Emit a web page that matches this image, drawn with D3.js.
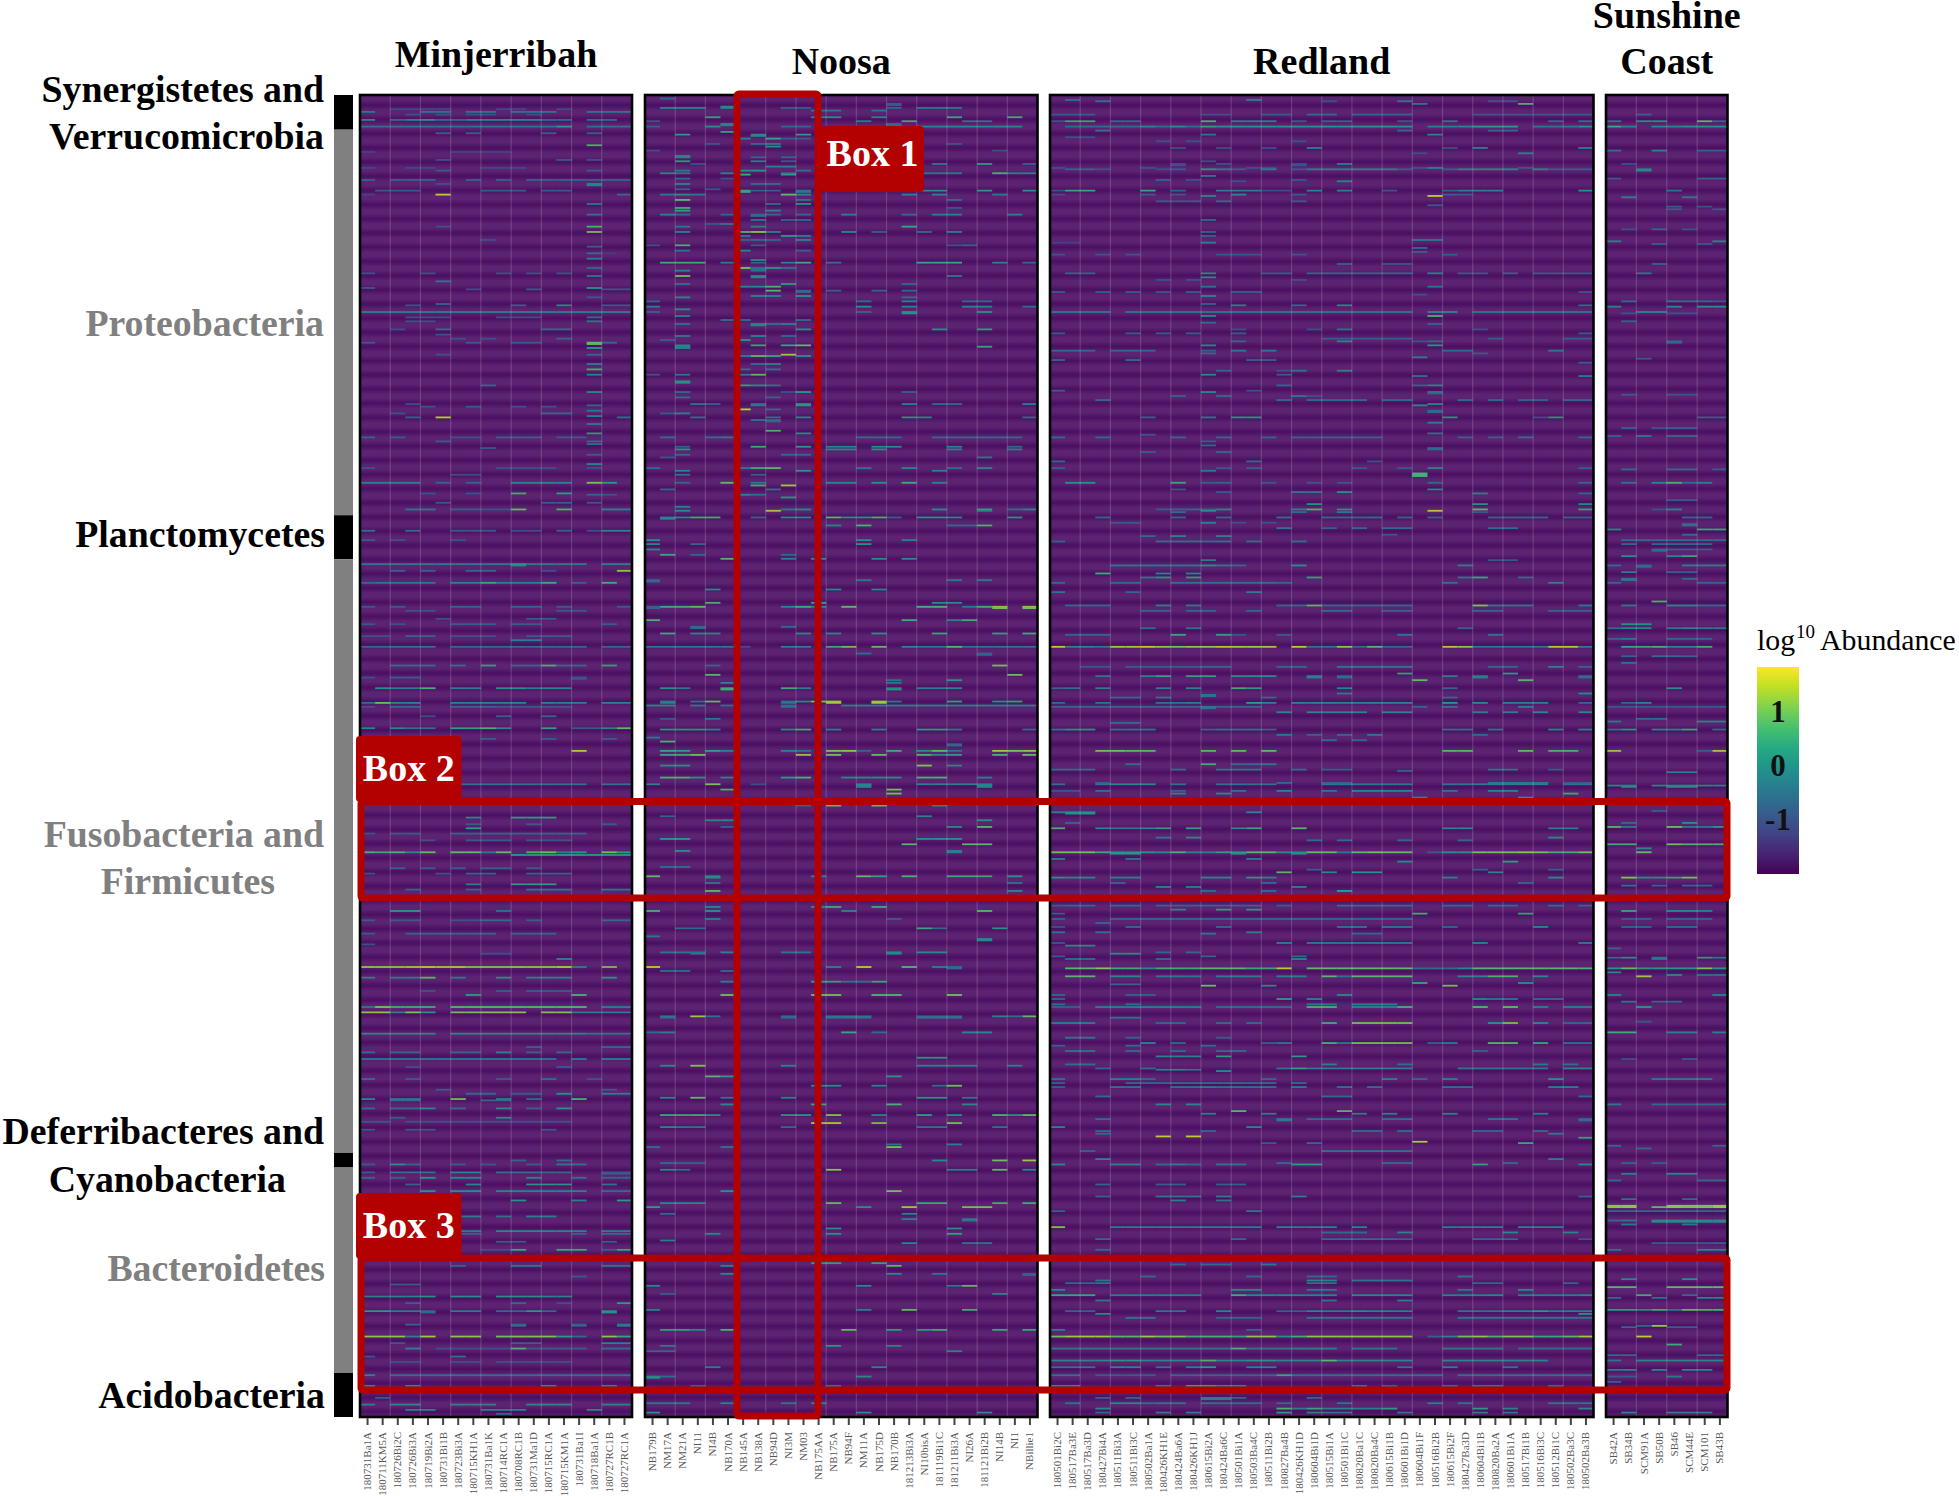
<!DOCTYPE html>
<html>
<head>
<meta charset="utf-8">
<style>
    body { margin: 0; background: #fff; }
    text { font-family: "Liberation Serif", serif; }
    .axis .domain { display: none; }
    .axis line { stroke: #444; stroke-width: 2; }
    .axis text { font-size: 11px; fill: #555; }
</style>
</head>
<body>
<svg width="1959" height="1496"></svg>
<script src="https://d3js.org/d3.v7.min.js"></script>
<script>
// sample names, one list per site
var minjerribahSamples = ["180731Ba1A","180711KM5A","180726Bi2C","180726Bi3A","180719Bi2A","180731Bi1B","180723Bi3A","180715KH1A","180731Ba1K","180714RC1A","180708RC1B","180731Ma1D","180715RC1A","180715KM1A","180731Ba1I","180718Ba1A","180727RC1B","180727RC1A"];
var noosaSamples = ["NB179B","NM17A","NM21A","NI11","NI4B","NB170A","NB145A","NB138A","NB94D","NI3M","NM03","NB175AA","NB175A","NB94F","NM11A","NB175D","NB170B","181213Bi3A","NI10bisA","181119Bi1C","181211Bi3A","NI26A","181121Bi2B","NI14B","NI1","NBillie1"];
var redlandSamples = ["180501Bi2C","180517Ba3E","180517Ba3D","180427Bi4A","180511Bi3A","180511Bi3C","180502Ba1A","180426KH1E","180424Ba6A","180426KH1J","180615Bi2A","180424Ba6C","180501Bi1A","180503Ba4C","180511Bi2B","180827Ba4B","180426KH1D","180604Bi1D","180515Bi1A","180501Bi1C","180820Ba1C","180820Ba4C","180615Bi1B","180601Bi1D","180604Bi1F","180516Bi2B","180615Bi2F","180427Ba3D","180604Bi1B","180820Ba2A","180601Bi1A","180517Bi1B","180516Bi3C","180512Bi1C","180502Ba3C","180502Ba3B"];
var sunshineSamples = ["SB42A","SB34B","SCM91A","SB50B","SB46","SCM44E","SCM101","SB43B"];

// phyla along the left strip, last row of each block
var phylumEnds = [26, 315, 348, 793, 804, 958, 991];
var colorbarTicks = [1, 0, -1];

// non background cells: [row, "cols cols value; ..."]
var minjerribahCells = [
[10,"2-5 9-10 13 -1.1"],[12,"0 4-5 7-8 10-12 15-17 -.4"],[14,"3 5 7-8 11 -1"],[18,"0 3 7-8 9-11 0; 4 .2; 2 5-6 12-13 15-16 -.5"],
[23,"0-12 15-17 -.4; 13 .3"],[28,"5 7 12 15 -.7"],[37,"15 .7"],[42,"0 6-9 -1.2"],[48,"5 -1; 13 -.8; 15 -1"],[54,"0 3-4 8-10 -1.1"],[56,"5 15 -.8"],
[63,"0 2-4 7 9 11-17 -.7"],[66,"15 -.2; 5 -1"],[67,"15 -.2"],[71,"1-3 8-10 12-13 -.8"],[74,"5 1.5; 0 -1.2; 17 -.6"],[81,"15 -.3"],[89,"15 -.4"],[98,"15 .7; 5 -1"],[102,"15 1"],
[108,"8 -1"],[113,"15 -.7"],[118,"15 -.5; 16 -1.3"],[122,"15 -.2"],[129,"15 -.6"],[133,"0 4 9 11 13 -1"],[135,"15 -.3"],[139,"5 -.3"],[144,"15 .2; 0 -.9"],[145,"7 -1; 11 16-17 -.9"],
[151,"15 -.9"],[156,"5 -.6"],[157,"3 -1; 10 -.7; 13 0; 16-17 -.8"],[162,"0-17 -.2"],[166,"3-4 5 9-11 -1; 15 -.5"],[169,"3-4 -1; 15 -.3"],[175,"2 -1; 5 12-13 -.5"],[179,"5 -1"],[182,"6 8 -1; 13 -.7"],
[185,"0 7 10-11 -.8; 15 .9; 16 -.5"],[186,"15 .9"],[189,"15 .3"],[194,"5 -1; 15 -.6"],[201,"15 -.2"],[205,"15 .6"],[209,"15 -.1"],[217,"8 -.6"],[222,"15 0"],[231,"3 -1"],[232,"15 -.6"],[233,"4 10 12 -1; 7 -.8"],
[236,"15 -.3"],[238,"2 -1; 12-13 -.6"],[240,"15 -.1"],[241,"3 -.7; 5 1.5; 17 -.4"],[246,"15 -.3"],[253,"15 .3"],[256,"0 9-11 -.7; 2 13-14 -.8; 6-7 -1"],[259,"5 -.8; 15 -.6"],[261,"15 -.5"],[264,"8 -.9"],[269,"15 -.8"],
[276,"15 -.1"],[279,"0 9-12 15 -1"],[284,"6-7 -1"],[290,"0-3 -.1; 5 7 -.7; 10-13 0; 15 1.1; 16 .3"],[298,"10 .6; 13 .3; 4 7 -1"],[299,"15 -.7; 16 -1"],[305,"5 15 -.8; 12-13 -.7"],[310,"3-4 -.4; 6-7 -.8; 8-9 -1; 10 .9; 13 .7; 16-17 -.2"],
[326,"0 -.4; 3 -.5; 6-8 -.8; 10-11 -1; 13 -.7; 15 -1; 16-17 0"],[333,"0 -.8; 2 6 -1"],[351,"0-14 -.3; 10 0; 16-17 -.2"],[352,"10 0"],[356,"2 4 -.7; 7-8 -.6; 12 -1; 17 1.2"],[365,"0 -.5; 1-4 -.3; 6-7 -.1; 8 .5; 9-11 -.2; 12 .6; 14 -.7; 16 .6"],
[383,"0 -.9; 2 13 -.8; 6-7 10-11 -.7; 17 -.8"],[386,"3-4 -1; 13-14 -.9"],[392,"5 -1; 11-12 -.8"],[396,"0 -.9; 2 -1; 6-8 10-11 -.8; 16 -.8"],[405,"0-1 6-8 -1; 3-4 -.7; 11-13 -.8"],[408,"10-11 -.2"],[413,"0-1 16-17 -.6; 2-4 -.4; 6-14 -.5"],
[427,"2-4 6 -.5; 8 .4; 12 .7; 16 .4; 10-11 13-14 -.6"],[436,"14 -.9; 0 -1; 2-3 -.8"],[437,"14 -.9"],[444,"1 .2; 2-3 -.2; 4 .7; 6-7 -.2; 9-10 .2; 11 -.2; 12-13 0"],[455,"0 -.4; 1 1; 2-3 0; 6-9 -.1; 10 0; 12-14 -.1; 16-17 0"],
[458,"0 -1; 2-3 -.6; 6-8 -.7; 9-13 -.9"],[465,"4 -1; 9 -.7; 12 -.6"],[474,"0 2 0; 3-4 -.4; 6-7 .4; 8 .7; 9 0; 12 .4; 16 -.1; 17 .9; 14-15 -.8"],[482,"8 12 16 -.8"],[491,"14 1.4"],[516,"6-14 16-17 -.4"],
[541,"7 -.1; 10-12 .3"],[546,"7 11 16 -.8"],[549,"7 .3"],[553,"0 -1; 2-3 -.8; 6-13 -.7; 14 -.7"],[558,"4 -1; 7-9 -.8; 11-13 -.9"],[567,"0 .7; 1 .5; 2 .7; 3 -.1; 4 .9; 6-7 .9; 8 -.3; 9 .9; 11 .7; 12 1; 13 -.2; 14 .2; 16 1; 17 .3"],[569,"10-17 .3"],
[579,"2 -.7; 4 6 -.8; 8-9 -.7; 11 -.8"],[583,"0 5 -1; 7-8 11-13 -.7"],[591,"10-12 .3; 7 -.2"],[595,"3 7 -.7; 11-13 16-17 -.4"],[611,"2-3 .3; 9 -.4"],[618,"0 2-3 11 -.8; 6-7 -1; 8-9 16-17 -.6"],[628,"0 -.8; 3-8 10-12 -.7"],[636,"0 -1"],[643,"8-9 -1"],[647,"13 0"],
[653,"0-2 1.2; 3 1.3; 4 1.5; 5 1.3; 6 1.4; 7-9 1.1; 10-12 1.2; 13 1.4; 14 -.2; 16 1"],[661,"0 -.2; 2-3 -.3; 4 .8; 6 -.3; 9 0; 11-13 -.2; 16 .1"],[671,"4 -.9; 9 11-13 -.8"],[674,"7 .3; 14 .7"],
[683,"0 -.3; 1 1.1; 2-4 .6; 6-14 .8; 16-17 -.2"],[687,"0-1 1.2; 2 -.1; 3 1.1; 4 .2; 6-7 1; 8-10 1.1; 12-13 1.1; 14-17 -.2"],[703,"0-4 6-14 -.1; 15-17 -.4"],[713,"11 -.7; 16-17 -.6"],[717,"0 2-3 6-7 13 -.6; 9 -.1; 11 -.7"],
[722,"0-12 -.3; 14 16-17 -.2"],[728,"3 -1; 13 -.8"],[737,"0 12 -.5; 3 9 -.8; 15 -.9"],[745,"5 16 -.8"],[748,"7-8 -.5; 10-11 -.8; 13 .1; 16-17 -.2"],[752,"0 0; 2-3 -.2; 6 1; 9 -.1; 11 -.5; 14 .7"],[753,"2-3 8-9 -.5"],
[759,"0 2-3 6 -.5; 4 9 0; 11 -.7; 13 .2"],[766,"2 -.8; 9 0"],[769,"0-1 -.9; 3-13 -1"],[775,"0 3-4 12 -.9"],[798,"13 -.5; 10 -.7"],[801,"0 6 11 -.8; 2 .1; 3 -.7; 8 -.9; 13-14 -.4"],[807,"0 -.8; 2-4 -.3; 6-7 0; 9-11 -.4; 12-13 -.5; 16-17 -.8"],[808,"16-17 -.8"],
[811,"0 -.6; 2 -.7; 4 .2; 6-7 0; 11 -.1; 14 -.4; 16-17 -.7"],[816,"3 -.6; 7 0; 11-13 .2; 16 -.3"],[821,"4 .2; 6-7 .1; 9-13 -.1; 14 -.2; 16-17 -.5"],[828,"10 .2; 14 -.2; 17 .3"],[840,"6-7 11-12 -.2; 9 -.4"],
[851,"9-12 0; 6-7 16-17 -.2; 13-14 -.1"],[853,"6-7 14 -.7; 16-17 -.5"],[859,"9-10 16 -.8"],[865,"10 13-14 17 .5; 8-9 -1; 16 -.8"],[877,"6 -.7; 10-11 16-17 -.3"],[885,"14 -.8"],[891,"2-3 -.8"],
[900,"0-3 12-13 -.1; 4 .2; 6-7 9-11 .1"],[905,"3 -.7; 10 -.5; 13 -1; 17 .3"],[911,"0-1 11 .3; 2-3 6-7 -.2; 4 9-10 12 -.5; 16 .2"],[912,"16 .2; 4 -.5"],[921,"3 10 -.6; 14 -.7; 17 -.3"],[922,"10 -.6; 14 -.7; 17 -.3"],
[930,"0-2 1.2; 3 -.2; 4 1.3; 6-7 1.2; 9 1; 10-12 1.1; 13 .3; 14 -.6; 16 1.2; 17 .5"],[935,"2 -.8; 10-11 -.7; 16-17 -.1"],[939,"3 -.1; 5-9 -1; 10 .7; 11-14 -.8; 16-17 -.5"],[945,"0 -.9; 6 -.4"],[949,"2-3 6-7 9-13 -1"],[959,"0 0; 2-17 -.4"],
[967,"0 3 12 0; 16 -.1"],[976,"1 -.8"],[981,"0 -.2; 2-3 11-13 0; 6-8 16-17 -.1"],[985,"3-4 8-10 -.2; 15 -.1"],[988,"9 -.7"]
];

var noosaCells = [
[2,"1 -.5"],[6,"16 -.8"],[7,"16 -.8"],[8,"5 -.1"],[9,"5 -.1; 1-3 -.1; 9-10 -.7; 10 -1; 16 -.7; 18-20 -.3"],[11,"11-12 -.3; 15 -.4"],[16,"4 .4; 11 0; 12 .1; 15 -.1; 20 .5; 24 .6"],[19,"0 -.9; 14 -.2; 17 .6; 21-22 -.4"],[21,"5 -.1; 16 -.6"],[22,"5 -.1; 16 -.6"],
[23,"0 -.8; 4 .1; 9-10 -.7; 18-24 0"],[27,"5 .4"],[29,"2 .3; 7 0; 10 .3"],[30,"7 0"],[32,"6 -.2; 8 .5; 9-10 -.8"],[36,"4 20 -.9; 8 -.3; 7 -.6"],[38,"8 .1"],[41,"0 23 -1"],[45,"2 -.1"],[46,"2 -.1; 7 9 -.7"],[49,"2 .3; 7 -.2; 9 -.8"],
[51,"3 -1; 19 -.3; 22 .3; 25 -.7"],[53,"8-9 -.2"],[56,"2 -.3; 6-7 .2; 10 -.5"],[58,"1 5 -.1; 2 9 18-20 -.3; 23 .7; 24-25 -.2"],[59,"6 .6; 9 .3"],[62,"2 -.6; 5 -1"],[66,"2 -.1; 7-8 -.5"],[70,"4 -.9; 2 -.7"],[71,"6 .5; 7-8 -.7; 10 -.3; 18-19 .1; 22 .3; 25 .2"],[72,"6 .5; 10 -.3"],
[74,"1 3 -.3; 2 10 0; 9 .9; 17 19 -.1; 23 -.3"],[78,"2 .9; 10 -.4; 20 -.6"],[81,"10 .1; 8 -.5"],[84,"2 .6; 20 -.9"],[86,"8 -.1; 2 .4"],[89,"1 -.1; 2 7-8 10 -.6; 5 -.7; 13 19-20 24 -.2; 17 -.5"],[90,"7 -.6"],[93,"7 -.3; 9 -.7; 10 -.6"],[96,"4 -.9; 5 -.3"],[98,"2 -.4; 7 -.2; 17 .5"],
[102,"6 .8; 7 1.2; 8 -.1; 2 -.1; 13 0; 15 -.7; 18 -.5; 20 -.2"],[105,"6 -.3; 10 -.2; 9 .3"],[108,"6 8 -.7; 10 -.1; 7 -.6"],[112,"2 .7; 7 -.8; 0 20 -1; 21 -.7"],[116,"2 -.3; 6 0; 10 -.7"],[123,"7 0"],[125,"1-3 .6; 5 -.2; 7 -.6; 9 -.1; 10 .6; 12 -.4; 18-20 .5; 23 -.1; 25 -.5"],
[129,"6 1.1; 7 9 -.5; 8 .2"],[130,"7 -.5"],[131,"2 -.1; 7 -.5"],[135,"2 1; 7 0; 20 -.3"],[136,"7 0"],[141,"2 -.5; 9 .3; 17 -.6"],[143,"6-7 0; 8 .7"],[146,"8 .8; 10 -.5; 12 -.7; 15 -.6; 17 -.5"],[147,"10 -.5"],[150,"7-8 -.1; 10 .1"],[151,"2 -.1; 17 -.5"],
[154,"0 -.7; 14 -.5; 17 -.1; 21-22 -.6"],[158,"0 -.2; 14 .1; 21-22 17 -.1; 25 -.5"],[160,"2 0"],[162,"0 -.7; 14 -.6; 17 .1; 22 .1"],[163,"17 .1"],[165,"2 -.2"],[168,"5 10 -.5; 6 -.4"],[171,"7 -.1; 2 8 -.5; 9 -.2"],[172,"7 -.1"],[175,"10 19 .1; 22 .3"],[180,"7 -.1; 9 -.6; 2 -.3"],[183,"6 .2; 1 -.8"],
[187,"2 -.1; 7 9 .5; 10 .9"],[188,"2 -.1; 22 .5"],[189,"2 -.1"],[194,"9 1.3"],[195,"6 -.2; 7 .9; 8 .5; 10 .1"],[201,"7 -.4; 8 -.1"],[205,"6 8 -.5"],[209,"7 .9; 0 -.9; 2 -.3; 6 -.2"],[214,"2 .1"],[215,"2 .1"],[217,"6 .4; 7 0; 8 -.4"],[222,"10 .3; 9 -1; 2 -.5; 17 -.7"],[226,"2 -.6; 8 -.7"],
[231,"7 -.3; 10 .2; 3 -.3; 4 -.7; 17 -.1; 19-20 -.5; 25 -.1"],[232,"7 -.3; 10 .2"],[235,"6 1.5; 8 -.6"],[238,"2 -.2; 1 -.8"],[241,"3 8 -.4; 17 .2; 18 10 -.1; 25 -.5"],[243,"7 -.4; 8 -.6"],[244,"8 -.6"],[251,"8 .7"],[253,"10 0"],[256,"5 -.3; 4 1 14 -.5; 15-16 19-24 -.6"],
[263,"7 .6; 10 .3; 12-13 0; 15-16 .1; 20 -.1; 2 -.7; 24 -.6"],[265,"2 .2; 12-13 0; 15 .1; 20 -.1; 24 -.2"],[269,"2 9-10 -.6"],[271,"1 -.9; 22 -.3"],[279,"0 -.5; 6 -.3; 7 .6; 8 .8; 14 -.4; 17 -.1; 20 -.5; 22 -.1"],[281,"2 -.1; 10 .2; 19 -.2"],[284,"2 -.4; 7 -.7"],
[290,"5 .9; 7 -.3; 2 -.7; 17 .6; 12-13 0; 15 .1; 19 -.1"],[292,"7 .6; 9 1.3"],[295,"8 -.4; 1 -.6"],[299,"6 -.1; 7 -.5"],[301,"9 .2"],[308,"2 -.2"],[310,"9 -.3; 10 0; 19 0; 22 .4; 24 -.6; 25 -.2"],[311,"8 1.3; 2 0; 22 -.2"],
[316,"1 0; 2 0; 3-4 .6; 9-10 0; 12 .8; 13-14 .1; 15 .7; 16 -.7; 18-19 .2; 20 -.1; 24 .2; 7 -.6"],[317,"1 0"],[322,"14 .7; 22 .7; 12 -.1; 20-21 -.6"],[333,"0 .1; 14 .1; 17 -.2"],[336,"0 0; 14 .2; 3 -.6"],[340,"0 -.1"],[344,"1 .5; 9 -.6; 3 -.7"],
[347,"5 .8; 9 -.2; 11 .2; 15 17 .1"],[363,"0 -.6; 14 20 22 -.3"],[364,"0 -.6"],[370,"4 15 12 0"],[380,"4 .7; 11 .5; 19-20 .1"],[383,"0 -.7; 1-2 .6; 3 13 .9; 9 11 0; 10 .6; 18-19 .7; 21 -.3; 22 .6; 23 25 1.2"],[384,"0 -.7; 23 25 1"],
[393,"0 .7; 17 21 .6; 20 -.2"],[398,"3 -.6; 9 -.5"],[399,"3 -.6"],[403,"1 .6; 3-4 10 12 0; 15 .1; 19 .5; 23 .4; 25 .6"],[413,"0-5 -.3; 6 -1; 9-10 -.2; 12 .5; 13 1; 15 .9; 17 0; 18-19 -.3; 20 .8; 21-25 -.4"],[418,"14 -.5; 22 -.7"],[419,"22 -.7"],[427,"23 1; 4 -.7"],[434,"4 .8; 24 1"],
[438,"20 .2; 16 -.4"],[440,"5 -.1; 16 -.3"],[444,"1 .2; 2 -.3; 5 .5; 9 .6; 10 16 18-19 -.2; 20 0"],[445,"5 .6; 16 .1"],[454,"1 -.2; 3 -.4; 4 .9; 9 -.3; 10 0; 11 1.1; 12 15 1.3; 16 -.3; 20 .4; 24 .4; 23 .1"],[455,"1 -.2; 9 -.3; 12 15 1.3"],
[457,"0-1 0; 3 -.3; 5 9 -.5; 13-25 -.2"],[458,"9 -.5"],[467,"4 -.3; 1 -.8"],[475,"1-3 .2; 4 -.1; 9 0; 10 .6; 12 -.2; 15 -.1; 18-19 .3; 20 -.3; 25 -.5"],[481,"0 -.3"],[484,"1 .7"],[486,"20 -.6"],[487,"20 -.6"],
[491,"1 .5; 2 .3; 4 .4; 5 9 -.1; 10 -.4; 12 1.1; 13 1.2; 14 -.7; 16 .6; 18 .1; 19 .9; 20 -.4; 23 1.3; 24 1.1; 25 1.2"],[494,"1-2 .5; 3 1; 10 1.2; 12 1; 15 .9; 18 .7; 19 0; 20 .3; 23 .7; 25 .9"],[502,"1-2 .1; 18 1.1; 20 -.1"],[511,"1-2 .7; 3 .1; 5 -.1; 9 .3; 10 .7; 13-16 0; 18-19 .7; 22 -.2"],
[516,"0 -.1; 4 1.1; 14 22 -.1; 7 -1; 18-21 -.2"],[517,"14 22 -.1"],[518,"14 22 -.1"],[520,"5 .7; 16 1"],[523,"16 1"],[532,"10 -.7; 12 15 .9; 19 -.1"],[540,"1 -.7; 18 -.1"],[543,"4 -.1; 5 0; 22 .1"],[548,"5 -.7; 22 .8; 20 0"],[557,"1-2 .3; 18-20 .1"],[561,"17 21-22 .8"],[566,"20 -.2; 2 .1"],[567,"20 -.2"],
[578,"1-2 -.5"],[585,"0 .9; 4 0; 11 -.1; 14 .9; 15 .4; 17 .7; 20-22 .5; 24 .2"],[586,"4 0"],[590,"4 -.3; 24 -.4"],[596,"4 .9; 24 0"],[608,"12 15 .6; 11 0; 4 -.1"],[611,"0 .7; 22 .8; 13 0; 4 .2"],[617,"4 -.2; 16 -.8"],[624,"2-3 19 -.5; 18 .5; 23 .2"],[630,"0 -.3"],[632,"22 0"],[633,"22 0"],
[642,"1-2 9-10 -.3; 3 -.4; 5 -.1; 16 18-19 0"],[643,"3 -.4; 16 0"],[653,"0 14 1.5; 12 19 -.1; 17 .8; 20 -.5"],[654,"20 -.5"],[656,"1-2 -.4; 5 -.5"],[664,"5 -.2; 11-12 .4; 15 .5; 13-14 -.4"],[674,"5 11 12 1; 15-16 .8; 20 1"],
[690,"1 -.3; 3 1.3; 4 -.4; 9 -.5; 12-14 -.3; 18-20 -.6; 23 -.1; 25 .9; 24 -.5"],[691,"1 9 -.5; 12-14 18-20 -.4"],[702,"1 -.2; 0 -.5; 13 .5; 15 -.5; 21-22 0"],[721,"18-19 .2"],[727,"1 0; 3 1.1; 9 -.1; 18-21 24 -.2"],[735,"4 .8; 5 .3; 16 .2"],[742,"11-12 .1; 15 -.1; 20 1; 19 -.5"],
[751,"1 0; 3 .9; 9 -.1; 5 21 -.3; 18-19 .2"],[756,"5 21 0; 11 .5; 16 .7"],[764,"1-2 .5; 3 .6; 4 .1; 9-10 .2; 12 1.1; 15 -.1; 20 .1; 23 .7; 24 .1; 25 .9; 18 .4"],[770,"11-12 1.3; 15 20 1"],[773,"1 0; 2-3 18-19 -.3; 9 -.5; 23 -.4"],[786,"16 -.4; 20 -.2"],[788,"5 -.4; 0 -.5; 16 1"],
[798,"23 1; 25 1.3; 19 0"],[800,"2-3 -.7; 1 -.5"],[805,"1 0; 2 -.5; 12 1.2; 20-21 -.2; 23 .9; 25 0"],[821,"5 .2; 16 1"],[830,"1-3 0; 12 .9; 18-19 .5; 23 25 .6"],[833,"0 .3; 14 .1; 17 1.3; 21-22 1"],[838,"1 -.5; 17 -.1"],[842,"21 -.3; 17 -.2"],[843,"21 -.3"],[849,"12 20 .1"],[853,"4 0; 12 .1; 20 .4"],[858,"1 -.2"],[860,"17 0; 21-22 -.4"],
[875,"11-12 .3; 15 .4"],[877,"16 .8; 5 0"],[883,"5 16 0; 19 -.3; 25 -.7"],[884,"25 -.7"],[892,"20 -.4; 21 .9; 14 0; 0 0"],[898,"1 -.8; 23 -.1"],[910,"0 -.1; 14 -.2; 17 .9; 21 .6"],[925,"1-2 .4; 3 0; 5 .7; 13 .9; 16 .3; 19 .6; 18 .3; 23 25 .5"],[937,"1 -.3; 12 .2; 16 -.2"],[941,"0-1 -.6; 20 -.2"],
[953,"4 -.2; 15 0"],[960,"0 0; 1 -.5; 14 0"],[961,"0 0"],[967,"3 -.6; 12 -.3"],[980,"0 -.4; 1-2 -.3; 5 -.1; 9 -.4; 11 0"],[987,"0 .2; 14 22 .1"]
];

var redlandCells = [
[3,"1 -.5; 13 -.2"],[4,"3 -.4; 23 -.3; 18 -1; 29-30 -.9"],[6,"24 -.3; 31 .7"],[14,"0-2 14-15 -.8; 10-11 -1; 17-18 -.6; 20-23 -.7; 28-33 -.9; 34-35 -.8"],[19,"0 -.9; 1-2 .5; 4-5 -.5; 10 .7; 12-14 -.1; 16 23 -.8; 18-19 -.7; 26 -.3; 33 -.6; 35 -.4"],
[23,"1-5 7 9 -.5; 6 0; 8 .1; 10 .3; 11 .1; 12-23 .2; 25-26 -.2; 27 0; 28-30 .3; 32-34 -.3; 35 .2"],[26,"3 -.3; 23 -.5; 29-30 -.6"],[29,"10 -.3; 25 -.1"],[31,"1-2 -1"],[34,"7 9 16 -1"],[39,"8 11 14 26 -1; 17 28 35 -.1"],[43,"24 -1; 31 -.2"],[49,"10 -1"],[51,"8 11 16 -1; 19 -.2"],[52,"8 16 -1"],
[54,"0 6 13-14 24 -1; 31 -.9; 25 -.2"],[55,"1-2 -.7; 3 7 -1; 8 12 23 26 33-35 -.8; 10 .2; 11 -.3; 14 17-22 -.2; 16 -.9; 27-30 -.1; 32 -.1"],[60,"10 -.3"],[63,"7 -.7; 9 -1; 16 -.9"],[64,"12 -1; 19 -.1"],[71,"0 -1; 1-2 6 .5; 8 26 -.7; 11-13 -.2; 14-15 -1; 17 0; 19 27-29 -.1; 22 -.9; 35 .2"],
[74,"0 -1; 6 27 -.8; 8 16 -.9; 12 0; 26 -.7"],[75,"10 -.1; 25 1.5"],[79,"7-9 16 -.8; 11 -.5"],[82,"25 -.8"],[93,"10 -.5"],[102,"10 -.7"],[105,"10 -.7"],[108,"24-25 -.3"],[110,"10 -.1; 0-1 -1.2"],[114,"24 -.5"],[117,"24 -.7"],[119,"0 3 5 11-13 16 -.9; 26 -.8"],[126,"19 -.7; 22-23 -.9"],
[133,"1-2 -.7; 10 -.1; 14-15 32-35 27-28 -.8; 17-23 -.6; 25 -.1; 30 -.7"],[136,"10 0"],[138,"7 9 16 -1"],[143,"10 -.4; 25 -.3"],[147,"0 3 5 9 -.8; 7 35 -.9; 12-13 -.7"],[149,"24 -1"],[150,"10 -.1"],[156,"10 -.7"],[157,"12 -.2; 16 -.5; 19 0; 35 -.6"],[162,"0-3 5-23 28-35 -.3; 25-26 0"],[165,"10 0; 25 .7"],[170,"10 -.5"],[171,"25 -.7"],
[175,"12 17 28 -1; 19 -.4"],[178,"0 5 7 9 12 35 -.8"],[182,"18-23 29 34-35 -.8"],[184,"19 -.1; 12 25 -.6; 24 -1"],[187,"10 -.1; 25 .2"],[191,"0-2 4-6 -.6; 12 14 33 -.3; 26-27 -.5; 10 -.8"],[193,"10 -.6; 28 -.8"],[196,"24 -.2"],[198,"0 -.6; 5 -.5; 13-14 -.7"],[200,"35 -.7"],[206,"11 -.7; 16 -.4; 19 -.1; 15 -1"],[209,"10 0; 15 -.8"],[210,"24 -.4; 35 -.2"],
[217,"15 -.6; 24 -.7; 25 -.1"],[221,"0 -.7; 13 -1"],[222,"10 0; 25 -.2"],[223,"25 -.7"],[225,"8 -.7; 11 -.6; 16 -.3; 17 -1"],[228,"3 15 17-20 22-23 27 29 -.5; 31-32 -.7; 34-35 -.6"],[231,"25 0"],[232,"24 0"],[236,"25 -.6"],[237,"25 -.6"],[241,"6 -.7; 10 -.3; 12-13 26 33 .2; 32 -1"],[245,"25 -.2"],[253,"25 -.4"],
[254,"6 -.9"],[256,"0 3 8 11 35 -.6; 14 16-21 27 29 -.7; 31 -.5"],[259,"10 -.8"],[262,"10 -.6"],[264,"25 -.6"],[265,"25 -.6"],[267,"6 -.8; 11 -.6"],[274,"0 -.6; 13 -.5; 21 -1"],[279,"0 13 35 -.8; 11 20 23 -.9; 25 -.1"],[281,"10 -.3"],[283,"24 .7"],[284,"24 .7"],[285,"24 .7"],
[290,"1-2 .2; 8 .5; 10 -.8; 11 -.7; 14 17 19 -.9; 25 35 -.6"],[295,"25 0; 8 -.9"],[297,"16-17 -.3; 19 .1; 11 -.8"],[298,"28 -.2; 35 -.7"],[306,"17 .1; 28 .1; 35 0"],[310,"7 10 -.8; 8-9 -.6; 11 -.1; 16 -.2; 17 .7; 19 .1; 28 .8; 35 .4"],[311,"10 .1; 25 1.4"],[312,"8 16 -.6; 19 -.3; 28 -.9"],
[316,"3 8 -.6; 11 18-20 29-32 -.5; 15 21 -.4; 23 25 34-35 -.6"],[320,"4-5 -.8; 10 -.1; 12 14 -1"],[324,"15 -.3; 18 -.7; 20 -.6; 22-23 29-30 -.5"],[329,"22 -.9"],[330,"6 -.6; 8 11 -.1"],[334,"0 -.7; 7-9 11 13 16 -.4; 10 -.5"],
[348,"10 -.2; 29-30 -.9"],[352,"4-9 11 -.3; 10 16 .1; 12 -.6; 27 -.2"],[358,"3 .6; 7 9 -.1"],[361,"6 -.3; 7 .2; 9 .3; 17 .4; 27 -.3; 28 .5; 31 -.5"],[365,"0 4-5 -.5; 8-14 26 -.4; 33 -.1; 15 -.6"],[372,"0 -.3; 13 -.2; 5 -.7"],
[382,"1-3 15-16 18-23 -.5; 7 -.2; 9 29-31 35 -.3; 17 .8; 28 1.1"],[386,"6-7 22-23 33-35 -.7; 9-10 13 28-29 -.6; 18-19 -.5"],[399,"6 -.5; 9 -.4; 27 -.7"],[404,"8 .5; 11 .4; 1-3 -.6; 12 -.9; 15 -.8; 23 29 -.3"],
[413,"0 1.5; 1-2 -.1; 3 -.3; 4-5 1.3; 6 1.5; 7 1.2; 8 1; 9 10 1.2; 11 1.4; 12-14 1.3; 16 1.5; 17-18 -.4; 19 1.2; 20 22-23 -.5; 21 .8; 26 1.4; 27 1.2; 28-32 -.3; 33-34 1.4; 35 -.2"],[428,"2-3 -.9; 5-9 -.8; 10-11 15-16 29-30 -.6; 19-23 -.3; 33 -.1; 35 -.7"],[433,"23 .4; 30 .3"],
[435,"3 -.3; 6 -.1; 7 .5; 9-10 .4; 12-14 .1; 17 26 28 -.2; 19 35 -.5"],[436,"17 28 -.2; 19 35 -.5"],[438,"24 .9; 31 .8"],[444,"0 26 -.6; 1 -.4; 3 -.2; 7 9 19 -.1; 12 .6; 13 .3"],[448,"35 0; 19 -.3"],[449,"10 -.4"],[450,"10 -.4"],[451,"4-5 14 26 -.6; 7 -.4"],
[455,"0 35 -.5; 3 7-8 -.3; 9 -.2; 13 .4; 14 16-23 0; 26 .3; 28 .1; 30-32 -.1"],[458,"0-13 24 -.7; 10 26 -.4; 31 -.2"],[459,"10 -.4"],[462,"15 32 35 0; 17-20 22-23 -.1; 28 30 -.2"],[470,"4-5 -.5"],[475,"0 4-6 -.3; 1-2 .2; 10 14 -.6; 11-13 -.3; 26-27 -.4; 29 -.3; 33 35 -.1"],
[479,"15 21 -.3; 17 -.7; 19 28 -.6"],[483,"18 20 -.5"],[491,"3-4 1; 5-6 10 .8; 12 14 31 .9; 26-27 .8; 33-34 .7"],[501,"5 12-13 -.5; 10 .6; 14 -.3"],[505,"0-2 8 16 -.5; 11-13 29-30 -.3; 18-19 33 -.8"],[506,"23 -.7"],[515,"3 18-19 -.7; 15 -.5; 29-32 -.3; 34-35 -.8"],
[516,"0 3 8 11-14 34-35 -.4; 4-6 0; 18-23 26-27 -.3; 28-32 -.2"],[521,"0-1 -.9; 3 12 -.4; 8 -.7; 15 -.1; 18 26 -.3; 20-23 0; 29-30 -.1"],[523,"8 -.1; 11 0; 34 .5"],[526,"24 0; 31 .2"],
[537,"0 -.1; 1-2 .1; 13 0"],[538,"1-2 .1"],[545,"1 -.6"],[549,"0 .7; 3 6 12 0; 4-5 -.3; 7 .3; 9 .4; 13 .5; 16 .8; 26-27 0; 33-34 -.2"],[556,"7 -.3; 9 -.1; 33 0"],[558,"17 19 -.5; 23 27 -.6"],
[567,"0-2 1; 3 .5; 4-5 .1; 6 .2; 7 0; 8 .7; 9-10 -.2; 11 .4; 12 .2; 13-14 .8; 15-16 0; 17-18 .9; 19 -.4; 20 .8; 21 1; 22-23 .9; 25 -.8; 26-27 .1; 28-30 1; 31 1.2; 32 1; 33-34 .6; 35 1"],[568,"4-5 .3; 12 .2; 16 .1"],[572,"0 -.1; 5 -.3; 13 -.2"],[574,"23 0; 30 .3"],
[580,"17 28 33 -.7"],[582,"15 .8; 18 29 0; 20-21 .2"],[586,"0 .1; 1-2 10-11 -.1; 4-5 14 26 -.2; 13 .2; 33 0"],[590,"4 -.6; 14 -.5; 31 -.6"],[593,"7 16 0; 9 -.1"],[596,"19 .4; 10 -.4; 14 -.5"],
[607,"0 15 -.8; 1-2 4-5 26-27 29-30 -.6; 7-13 35 -.7; 19-23 33 -.5"],[610,"8 -.1; 11 .3; 13 .2"],[613,"24 .6; 31 .4; 0 -.8"],[617,"0 -.7; 4-23 -.6"],[620,"3 -.6"],[623,"5 11 -.5; 0 -.9; 19-20 22-23 -.3; 26 -.6; 32 0"],[627,"0 -.3; 13 -.2; 3 -.4"],[628,"10 -.4; 20-21 -.6"],[635,"0 -.8; 15 -.1; 17-23 -.2; 28 0; 35 -.1"],[637,"1-2 0"],
[642,"7 9 -.7"],[643,"4-5 0"],[645,"0 -.8; 10 -.6; 16 -.5"],[647,"7 -.5; 16 0; 1-2 -.4"],[654,"1-2 .8; 3 1.2; 4-5 .6; 6 0; 7-9 .6; 10-12 .8; 13-14 .5; 15 1.5; 17-23 .9; 24-26 -.5; 27 0; 28-34 .8; 35 .7"],[660,"1-2 .8; 4-5 0; 7-9 -.3; 11-13 15-16 -.2; 18 20-23 .8; 19 -.4; 27-28 -.1; 29-30 .7; 32 0"],
[665,"24 .5; 31 .1"],[666,"4-5 -.6"],[667,"10 26 1; 14 0"],[674,"0 -.6; 5-6 -.7; 19 0"],[677,"0 -.6; 17 28 0; 15 .4; 29-30 -.3; 32-33 -.5"],[681,"0 5 -.5; 17-18 -.3; 20-22 -.2"],[683,"0-1 -.7; 3-9 -.2; 11-15 -.5; 17-18 .7; 20-22 -.1; 23 .7; 28 .8; 30 .9; 32 34-35 -.1"],[691,"4-5 -.4"],
[695,"0-2 -.2; 7-8 -.6; 11 13 -.5; 18 .6; 20-23 30 1; 29 .2; 32 0; 34-35 -.6"],[706,"1-2 -.3; 5 -.7; 11 -.8"],[710,"6 0; 8 -.5; 14 -.7; 15 19 -.3; 18 .7; 20-23 1; 25 -.7; 26 -.2; 29-30 .8; 32 .5; 34-35 -.4"],[712,"0 -.7; 5 10 -.5"],[716,"1-2 -.4; 5 8 -.6; 11-12 -.5; 28 -.7"],[720,"7-9 -.1; 11 16 .3"],
[726,"1-2 23 34 -.5; 18 -.2; 32 -.3"],[729,"3 -.6; 6 -.5; 15 27-32 -.3; 16 .4; 17-23 -.2; 34-35 -.1"],[730,"7 -.2; 8 -.1; 9 -.4"],[731,"11 .1"],[737,"0 -.4; 4-5 22 -.2; 6 14 24 -.6; 26 -.1; 33 .1"],[740,"0 -.7; 5-14 16 -.6"],[743,"0 -.7; 4-5 19 -.3; 8-9 11-14 21 26-27 -.4; 10 16 -.2; 33-34 -.1"],
[750,"3 18-19 35 -.5"],[756,"7 0; 9 -.1"],[761,"12 19 .8"],[763,"10 14 20 32 -.2; 22 26 -.1"],[767,"3 18-19 22-23 35 -.5; 15 -.3; 17 -.6; 29-30 -.4"],[768,"15 -.3; 35 -.5"],[773,"0 13 0"],[776,"3 20-21 23 32 -.5; 10 28-29 -.6"],[778,"33 -.3; 3 -.6"],[780,"7 9 1.5"],[781,"35 .4"],[784,"24 1.4"],[785,"31 .5; 14 -.8; 17 -.5"],
[791,"2 -.7; 18-23 -.4"],[797,"3 0; 33 -.2"],[800,"15 22-23 30 -.5"],[801,"0 0; 4-5 -.1; 8 -.2; 7 9 -.5; 11-12 -.3; 16-17 .3; 28 .4; 35 0"],[816,"3 -.6; 7-8 11-12 -.7"],[825,"7-9 -.3; 11 16 -.2; 3 35 -.7"],[828,"8 -.2; 11 -.4"],[836,"13 -.3; 0 -.7"],
[848,"0 1.1; 4-13 16 26-27 -.2; 15 17-18 20 28-29 31-33 -.1"],[852,"34 23 -.1; 30 0; 18-20 -.5"],[857,"3 12 18-22 -.5; 23 -.7; 28-30 -.6; 35 -.9"],[865,"3 -.6"],[876,"8 10-11 -.6; 14 -.3"],[885,"6 -.5; 13 17-18 -.6; 27 -.3"],[888,"3 20-23 -.4; 17-18 -.1"],[890,"1-2 28-29 34 -.6; 3 17-18 -.4"],[895,"0 12-13 31 0; 17-18 27 -.3"],
[899,"0-2 .5; 4-9 -.2; 12 .6; 13-15 20-23 29 0; 16-18 26-28 -.1; 31-34 -.2; 35 0"],[903,"23 -.2; 3 18 -.3"],[911,"1-2 -.6; 7-8 27-29 -.3; 11 17 0; 15-16 -.7; 18-19 33 -.2; 20 .1; 21-23 30-31 34-35 -.1; 32 .3"],[913,"3 0; 35 .2"],[916,"5-6 17-23 27-35 -.4; 11-13 -.7"],[925,"0 -.2; 13 -.6"],
[930,"0 1; 1-3 1.3; 4-5 .8; 6 1.3; 7 1; 8 1.1; 9 .6; 10-11 .7; 12 .4; 13-14 1.2; 15 .1; 16 .6; 17-23 1.2; 25 -.7; 26 -.1; 27 1; 28 1.2; 29 .7; 30-31 1.1; 32-33 .5; 34 .8; 35 1.3"],[939,"0-11 13-15 -.4; 12 .7; 16-18 -.2; 20-22 26-29 -.3; 31-35 -.5"],[948,"0-3 6-9 11-12 15-17 19-23 26-32 -.1; 4-5 13-14 .2; 10 .7; 18 .8"],
[953,"0-2 7 23 30 -.3; 4-5 0; 9 13-14 26 -.1; 10 .3"],[959,"0-1 16-25 27-35 -.4; 3-6 -.8; 8-14 -.6; 15 .5"],[967,"0-1 11-12 0; 7 20 28-29 -.3; 9-10 .4; 22 -.6; 26 -.5; 33 -.4"],[976,"5 -.6; 10-11 -.2; 12 3 -.7; 17 -.5"],[977,"10-11 -.2"],[980,"1 7-8 10 27 33-35 -.4; 4-5 0; 6 11-13 -.5; 15 -.6; 19 -.3; 25 -.2"],
[984,"3 0; 15 .7; 17 .5; 16 18-21 -.2; 22 28 .3; 30 -.1; 35 -.1"],[987,"3 -.6; 7 9 17 28 -.2; 15 .3; 18-19 23 30 -.3"]
];

var sunshineCells = [
[14,"2 -.7"],[19,"0 -.3; 2-3 .1; 6 .8; 7 -.5"],[23,"0 .6; 1 -.1; 3-4 0; 5-7 .1"],[41,"0 -.4; 3 0; 6-7 -.7"],[51,"1 -1"],[55,"2 -.1"],[56,"2 -.1"],[62,"0 -.8; 6-7 -.7"],[71,"4 -.3"],[76,"1 -.2; 5 -.3"],[83,"4 -.8; 6 -1"],[85,"4 -.8; 7 -.9"],[100,"1 5 -1; 3 -.7"],[109,"0 -.2; 7 -.1"],[111,"3 -.8; 6 -.9"],
[126,"3 -.7"],[133,"2 -.4"],[154,"1 -.6; 4 -.4; 5-6 -.6; 7 -.8"],[158,"0 -.1; 4 0; 6-7 .1"],[162,"2-3 0"],[163,"1 4-5 -1"],[169,"1 -.7"],[184,"4 -.6"],[185,"4 -.6"],[197,"2 -.8"],[224,"1 -.8; 4-5 -.9"],[241,"6-7 -.7"],[249,"1 4-5 -.7; 3 -.9"],[255,"0 -.7; 2 -.3; 4-5 -.6"],[280,"1 4-5 -.6; 7 -.8"],
[290,"1 -.4; 3 0; 4 .7; 5 -.5; 6 -.2"],[303,"4-5 -.8"],[310,"3 -1; 4 -.1"],[316,"5-6 -.5"],[321,"5 -.5"],[322,"5 -.5"],[325,"0 0; 6-7 .5"],[329,"5 -.5"],[333,"1-7 -.6"],[336,"1 -.5; 3-6 -.6"],[340,"3 -.6; 4-6 -.8"],[341,"3 -.6"],[345,"1 .1; 4 -.1; 5 .5"],[352,"0 2 -.5; 5-7 -.2"],[353,"2 -.5"],[357,"1 -.2; 4-5 -.7"],
[362,"1 -.4; 5 -.6"],[363,"1 -.4"],[365,"0 6-7 -.6"],[379,"3 .7"],[382,"1 -.3; 4-5 0; 6-7 -.5"],[396,"1-2 .1"],[399,"0 -.5; 1-2 5 -.1; 4 6-7 -.3"],[407,"0 -.7; 1 -.3; 4-6 -.6"],[413,"1-2 .5; 3 .7; 4-5 -.1; 6 .6"],[420,"1 5 -.7; 3-4 -.5"],[425,"1 -.4"],[444,"4 .1"],[455,"1 -.6; 2 0"],[458,"0-7 -.9"],
[467,"2-3 -.5"],[469,"0 -.3; 6-7 -.1"],[475,"0 -.4; 1 .2; 3-4 -.1; 5 .5; 7 -.5"],[491,"0 1.2; 7 1.3; 6 -.8"],[507,"4-5 -.1"],[517,"0 5 0; 1 3-4 6 -.1; 7 -.2"],[518,"1 4-5 0"],[536,"3 -.8"],[545,"1 -.5; 5 .1"],[548,"0 .8; 1 5-6 -.3; 4 1; 7 .3"],[561,"0-1 .6; 4 1; 5-7 .7"],[564,"2 0"],[567,"2 .9"],
[586,"1 1.1; 2-3 0; 4 .4; 5 1"],[592,"1 -.4; 3 -.7; 5-6 -.6"],[611,"1 .5; 4-5 .1; 6 -.1"],[617,"1-2 -.8; 4-6 -.7"],[623,"1-2 -.6; 4-5 -.5"],[639,"0 -.7"],[646,"0 -.5; 1 .1; 3 7 -.3; 6 .3"],[647,"3 -.3"],[654,"0 .2; 1 .9; 2-5 .2; 6 1.1; 7 .2"],[657,"0 0"],[659,"4 0; 6-7 -.4"],[660,"2 1.3"],
[674,"0 7 -.1"],[679,"1 -.3; 3-4 -.6"],[683,"2 .3"],[694,"2 -.9"],[702,"0-1 .6; 4-5 7 -.2"],[722,"1 -1; 5 -.9"],[737,"3-6 -.3"],[756,"0 -.3; 3 -.6; 4-5 -.7; 6-7 -.6"],[787,"0 -.6; 7 -.7"],[789,"2 -.6"],[800,"1 -.7; 3 -.8"],[808,"1 -.2; 4-5 -.1"],[813,"0 6-7 -.5"],[827,"1 -.4; 5 -.5"],
[832,"0-1 4 1.2; 5-6 1.1; 7 1.3"],[833,"0-1 1.2; 3 .9; 4 1.2; 5-6 1.1; 7 1.3"],[836,"0-7 -.6"],[843,"0 -.6; 3-7 -.1; 1 -.3"],[844,"3-7 -.1"],[846,"1 5 -.3"],[860,"3-6 -.8; 7 -.7"],[865,"0 -.4; 6-7 -.1"],[887,"1 0; 5 .1"],[893,"0-1 .8; 4-7 .9"],[899,"2 .6; 5 -.5"],[901,"0 -.5; 3 -.4; 6-7 -.1"],
[910,"0-1 .3; 2 0; 3 .6; 4 -.3; 5 .9; 6-7 .7"],[922,"3 1.3; 2 -.6"],[923,"1 -.5; 4-5 -.7"],[930,"2 1.5"],[936,"4 .6"],[944,"0-1 6-7 -.5"],[948,"0 -.4; 2-7 -.1"],[955,"0 -.2; 1 -.1; 3 5-6 0"],[960,"4 -.3; 0-1 -.8"],[964,"0 -.7"],[987,"1 0; 4-6 -.1"]
];

var svg = d3.select("svg");

var rowCount = 991,
    top_ = 95,
    bottom = 1417;

var panels = [
    {name: ["Minjerribah"], samples: minjerribahSamples, cells: minjerribahCells, left: 360, right: 632, titleY: [67]},
    {name: ["Noosa"], samples: noosaSamples, cells: noosaCells, left: 645, right: 1037.5, titleY: [74]},
    {name: ["Redland"], samples: redlandSamples, cells: redlandCells, left: 1050, right: 1593.5, titleY: [74]},
    {name: ["Sunshine", "Coast"], samples: sunshineSamples, cells: sunshineCells, left: 1606, right: 1727.5, titleY: [28, 74]}
];

var y = d3.scaleBand().domain(d3.range(rowCount)).range([top_, bottom]);

var colorScale = d3.scaleSequential(d3.interpolateViridis).domain([-2, 1.83]);

// turns "2-5 9 -1.1; 3 .4" into single cells
function expandCells(rows) {
    var out = [];
    rows.forEach(function(r) {
        r[1].split(";").forEach(function(part) {
            var toks = part.trim().split(/\s+/),
                value = parseFloat(toks.pop());
            toks.forEach(function(t) {
                var ends = t.split("-").map(Number),
                    last = ends.length > 1 ? ends[1] : ends[0];
                for (var c = ends[0]; c <= last; c++)
                    out.push({row: r[0], col: c, value: value});
            });
        });
    });
    return out;
}

// the faint horizontal banding behind the cells
var defs = svg.append("defs");
var grad = defs.append("linearGradient").attr("id", "bandGrad")
    .attr("x1", 0).attr("x2", 0).attr("y1", 0).attr("y2", 1);
grad.append("stop").attr("offset", "0%").attr("stop-color", "#4a0e62");
grad.append("stop").attr("offset", "35%").attr("stop-color", "#5b2371");
grad.append("stop").attr("offset", "65%").attr("stop-color", "#5b2371");
grad.append("stop").attr("offset", "100%").attr("stop-color", "#4a0e62");
defs.append("pattern").attr("id", "bands").attr("patternUnits", "userSpaceOnUse")
    .attr("x", 0).attr("y", top_ - 4).attr("width", 10).attr("height", 14.2)
    .append("rect").attr("width", 10).attr("height", 14.2).attr("fill", "url(#bandGrad)");

// the source figure is a soft raster, thin cells bleed into the background
defs.append("filter").attr("id", "soft")
    .attr("filterUnits", "userSpaceOnUse")
    .attr("x", 0).attr("y", 0).attr("width", 1959).attr("height", 1496)
    .append("feGaussianBlur").attr("stdDeviation", "0.5 0.45");

panels.forEach(function(p) {
    var x = d3.scaleBand().domain(d3.range(p.samples.length)).range([p.left, p.right]);
    var g = svg.append("g");

    g.append("rect")
        .attr("x", p.left).attr("y", top_)
        .attr("width", p.right - p.left).attr("height", bottom - top_)
        .attr("fill", "url(#bands)");

    g.append("g")
        .attr("filter", "url(#soft)")
        .attr("fill-opacity", 0.9)
        .selectAll("rect")
        .data(expandCells(p.cells))
        .enter().append("rect")
        .attr("x", function(d) { return x(d.col); })
        .attr("y", function(d) { return y(d.row); })
        .attr("width", x.bandwidth())
        .attr("height", y.bandwidth() * 1.35)
        .attr("fill", function(d) { return colorScale(d.value); });

    // light lines every second sample
    g.selectAll("line.grid")
        .data(d3.range(2, p.samples.length, 2))
        .enter().append("line")
        .attr("class", "grid")
        .attr("x1", function(d) { return x(d); })
        .attr("x2", function(d) { return x(d); })
        .attr("y1", top_).attr("y2", bottom)
        .attr("stroke", "#fff").attr("stroke-opacity", 0.16).attr("stroke-width", 1.2);

    g.append("rect")
        .attr("x", p.left).attr("y", top_)
        .attr("width", p.right - p.left).attr("height", bottom - top_)
        .attr("fill", "none").attr("stroke", "#000").attr("stroke-width", 2.6);

    g.append("g")
        .attr("class", "axis")
        .attr("transform", "translate(0," + (bottom + 1) + ")")
        .call(d3.axisBottom(x).tickSize(7).tickFormat(function(i) { return p.samples[i]; }))
        .selectAll("text")
        .attr("transform", "rotate(-90)")
        .attr("text-anchor", "end")
        .attr("x", -14)
        .attr("y", 0)
        .attr("dy", "0.32em");

    p.name.forEach(function(line, i) {
        svg.append("text")
            .attr("x", (p.left + p.right) / 2)
            .attr("y", p.titleY[i])
            .attr("text-anchor", "middle")
            .attr("font-weight", "bold")
            .attr("font-size", 38)
            .text(line);
    });
});

// phylum strip
var stripColors = ["#000", "#808080"];
phylumEnds.forEach(function(end, i) {
    var start = i ? phylumEnds[i - 1] : 0;
    svg.append("rect")
        .attr("x", 334).attr("width", 19)
        .attr("y", y(start))
        .attr("height", y.step() * (end - start))
        .attr("fill", stripColors[i % 2]);
});

var phylumLabels = [
    {text: "Synergistetes and", x: 324, y: 102, fill: "#000"},
    {text: "Verrucomicrobia", x: 324, y: 149, fill: "#000"},
    {text: "Proteobacteria", x: 324, y: 336, fill: "#808080"},
    {text: "Planctomycetes", x: 325, y: 547, fill: "#000"},
    {text: "Fusobacteria and", x: 324, y: 847, fill: "#808080"},
    {text: "Firmicutes", x: 275, y: 894, fill: "#808080"},
    {text: "Deferribacteres and", x: 324, y: 1144, fill: "#000"},
    {text: "Cyanobacteria", x: 286, y: 1192, fill: "#000"},
    {text: "Bacteroidetes", x: 325, y: 1281, fill: "#808080"},
    {text: "Acidobacteria", x: 325, y: 1408, fill: "#000"}
];
svg.append("g").selectAll("text")
    .data(phylumLabels)
    .enter().append("text")
    .attr("x", function(d) { return d.x; })
    .attr("y", function(d) { return d.y; })
    .attr("text-anchor", "end")
    .attr("font-weight", "bold")
    .attr("font-size", 37.8)
    .attr("fill", function(d) { return d.fill; })
    .text(function(d) { return d.text; });

// red boxes
var red = "#b30000";
var boxes = [
    {x: 737, y: 94, w: 81, h: 1322},
    {x: 361, y: 801.5, w: 1366, h: 96.5},
    {x: 361, y: 1258, w: 1366, h: 132}
];
svg.append("g").selectAll("rect")
    .data(boxes)
    .enter().append("rect")
    .attr("x", function(d) { return d.x; })
    .attr("y", function(d) { return d.y; })
    .attr("width", function(d) { return d.w; })
    .attr("height", function(d) { return d.h; })
    .attr("rx", 2)
    .attr("fill", "none")
    .attr("stroke", red)
    .attr("stroke-width", 7);

var boxTags = [
    {text: "Box 1", x: 821, y: 126, w: 103, h: 66, base: 166},
    {text: "Box 2", x: 356, y: 736, w: 105.5, h: 66, base: 781},
    {text: "Box 3", x: 356, y: 1193, w: 105.5, h: 66, base: 1238}
];
boxTags.forEach(function(t) {
    svg.append("rect")
        .attr("x", t.x).attr("y", t.y)
        .attr("width", t.w).attr("height", t.h)
        .attr("rx", 4)
        .attr("fill", red);
    svg.append("text")
        .attr("x", t.x + t.w / 2)
        .attr("y", t.base)
        .attr("text-anchor", "middle")
        .attr("font-weight", "bold")
        .attr("font-size", 38)
        .attr("fill", "#fff")
        .text(t.text);
});

// colour bar
var barY = d3.scaleLinear().domain([-2, 1.83]).range([874, 667]);
var barGrad = defs.append("linearGradient").attr("id", "barGrad")
    .attr("x1", 0).attr("x2", 0).attr("y1", 1).attr("y2", 0);
d3.range(0, 1.001, 0.1).forEach(function(t) {
    barGrad.append("stop").attr("offset", t).attr("stop-color", d3.interpolateViridis(t));
});
svg.append("rect")
    .attr("x", 1757).attr("y", 667)
    .attr("width", 42).attr("height", 207)
    .attr("fill", "url(#barGrad)");
svg.append("g").selectAll("text")
    .data(colorbarTicks)
    .enter().append("text")
    .attr("x", 1778)
    .attr("y", function(d) { return barY(d) + 10; })
    .attr("text-anchor", "middle")
    .attr("font-weight", "bold")
    .attr("font-size", 31)
    .attr("fill", "#111")
    .text(function(d) { return d; });

var legendTitle = svg.append("text")
    .attr("x", 1757).attr("y", 650)
    .attr("font-size", 29.8);
legendTitle.append("tspan").text("log");
legendTitle.append("tspan").attr("font-size", 19).attr("dy", -12).attr("dx", 1).text("10");
legendTitle.append("tspan").attr("dy", 12).attr("dx", 5).text("Abundance");
</script>
</body>
</html>
